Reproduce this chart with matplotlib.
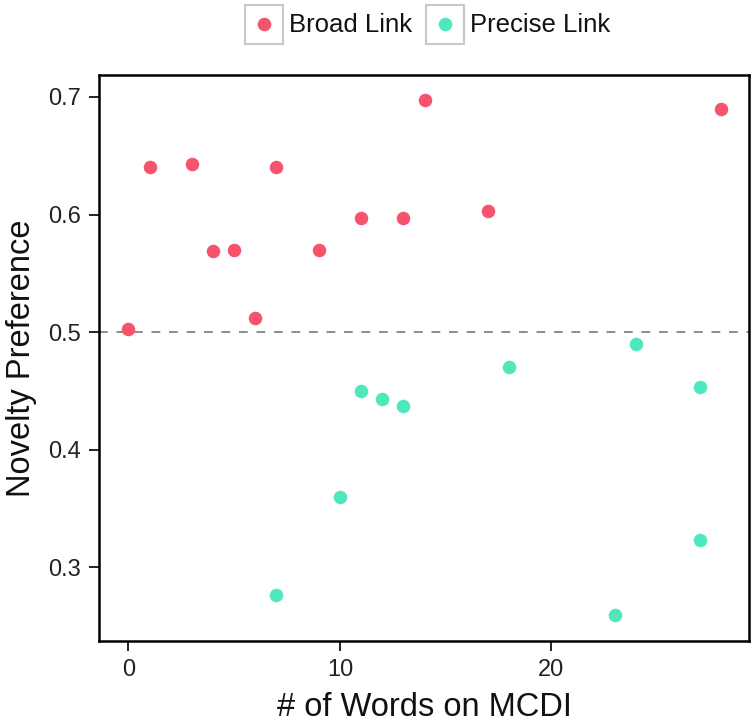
import matplotlib
matplotlib.use("Agg")
import matplotlib.pyplot as plt
from matplotlib.patches import Rectangle

plt.rcParams['font.family'] = ['Liberation Sans', 'DejaVu Sans']

broad_x = [0, 1, 3, 4, 5, 6, 7, 9, 11, 13, 14, 17, 28]
broad_y = [0.503, 0.640, 0.643, 0.569, 0.570, 0.512, 0.640, 0.570, 0.597, 0.597, 0.697, 0.603, 0.690]
precise_x = [7, 10, 11, 12, 13, 18, 23, 24, 27, 27]
precise_y = [0.277, 0.360, 0.450, 0.443, 0.437, 0.470, 0.260, 0.490, 0.453, 0.323]
series_labels = ["Broad Link", "Precise Link"]
colors = ["#F5546C", "#4FE8BE"]

W, H = 754, 726
fig = plt.figure(figsize=(W / 100, H / 100), dpi=100)
ax = fig.add_axes([99 / W, 1 - 641 / H, (749 - 99) / W, (641 - 75) / H])

ax.axhline(0.5, color="#8c8c8c", linestyle=(0, (4.5, 4.5)), linewidth=1.4, zorder=1)
ax.scatter(broad_x, broad_y, s=95, color=colors[0], label=series_labels[0], zorder=3, linewidths=0)
ax.scatter(precise_x, precise_y, s=95, color=colors[1], label=series_labels[1], zorder=3, linewidths=0)

ax.set_xlim(-1.39, 29.34)
ax.set_ylim(0.2375, 0.7186)
ax.set_xticks([0, 10, 20])
ax.set_yticks([0.3, 0.4, 0.5, 0.6, 0.7])
ax.set_yticklabels(["0.3", "0.4", "0.5", "0.6", "0.7"])
for s in ax.spines.values():
    s.set_linewidth(1.8)
    s.set_color("black")
ax.tick_params(axis="both", labelsize=17, length=7, width=1.4, color="#222222", labelcolor="#222222", pad=6)
ax.set_xlabel("# of Words on MCDI", fontsize=23.5, labelpad=8, color="#111111")
ax.set_ylabel("Novelty Preference", fontsize=23.5, labelpad=8, color="#111111")

# legend drawn in an overlay axes using pixel coordinates
lax = fig.add_axes([0, 0, 1, 1])
lax.set_xlim(0, W)
lax.set_ylim(H, 0)
lax.axis("off")
key_x = [264, 445]
text_x = [289, 470]
for kx, tx, lab, col in zip(key_x, text_x, series_labels, colors):
    lax.add_patch(Rectangle((kx - 19, 4.5), 38, 39, fill=False, edgecolor="#c8c8c8", linewidth=1.5))
    lax.scatter([kx], [24], s=95, color=col, linewidths=0)
    lax.text(tx, 25, lab, fontsize=18.5, va="center", ha="left", color="#111111")

fig.savefig("out.png", dpi=100)
